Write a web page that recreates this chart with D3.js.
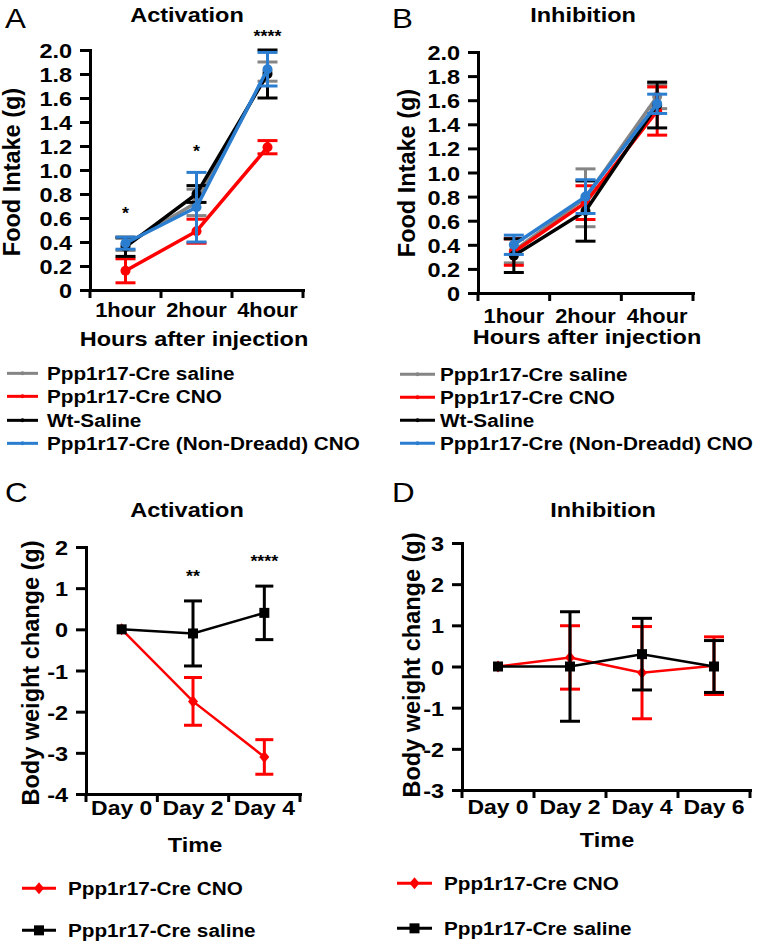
<!DOCTYPE html>
<html>
<head>
<meta charset="utf-8">
<script src="https://cdn.jsdelivr.net/npm/d3@7"></script>
<style>
  body { margin: 0; background: #fff; }
  text { font-family: "Liberation Sans", Arial, sans-serif; font-weight: bold; fill: #000; }
</style>
</head>
<body>
<svg id="fig" width="762" height="947"></svg>
<script>
// --- data ---
const hours = ["1hour", "2hour", "4hour"]
const foodTicks = [0, 0.2, 0.4, 0.6, 0.8, 1.0, 1.2, 1.4, 1.6, 1.8, 2.0]

// A: activation, food intake (mean, sem)
const actSaline = [0.38, 0.73, 1.82]
const actSalineErr = [0.05, 0.11, 0.08]
const actCNO = [0.16, 0.49, 1.19]
const actCNOErr = [0.10, 0.10, 0.055]
const actWt = [0.36, 0.80, 1.80]
const actWtErr = [0.08, 0.07, 0.20]
const actNonDreadd = [0.39, 0.69, 1.84]
const actNonDreaddErr = [0.05, 0.29, 0.14]
const actStars = ["*", "*", "****"]
const actStarsY = [0.59, 1.11, 2.07]

// B: inhibition, food intake
const inhSaline = [0.35, 0.79, 1.63]
const inhSalineErr = [0.10, 0.24, 0.10]
const inhCNO = [0.34, 0.75, 1.51]
const inhCNOErr = [0.11, 0.14, 0.20]
const inhWt = [0.31, 0.68, 1.56]
const inhWtErr = [0.14, 0.25, 0.19]
const inhNonDreadd = [0.40, 0.80, 1.57]
const inhNonDreaddErr = [0.08, 0.14, 0.08]

const foodNames = ["Ppp1r17-Cre saline", "Ppp1r17-Cre CNO", "Wt-Saline", "Ppp1r17-Cre (Non-Dreadd) CNO"]
const foodColors = ["#858585", "#ff0000", "#000000", "#2b7dd0"]

// C: activation, body weight
const daysC = ["Day 0", "Day 2", "Day 4"]
const bwTicksC = [-4, -3, -2, -1, 0, 1, 2]
const bwActCNO = [0, -1.75, -3.1]
const bwActCNOErr = [0, 0.58, 0.42]
const bwActSaline = [0, -0.1, 0.4]
const bwActSalineErr = [0, 0.79, 0.65]
const bwStars = ["", "**", "****"]
const bwStarsY = [0, 1.15, 1.51]

// D: inhibition, body weight
const daysD = ["Day 0", "Day 2", "Day 4", "Day 6"]
const bwTicksD = [-3, -2, -1, 0, 1, 2, 3]
const bwInhCNO = [0, 0.22, -0.15, 0.02]
const bwInhCNOErr = [0, 0.77, 1.12, 0.70]
const bwInhSaline = [0, 0, 0.3, 0]
const bwInhSalineErr = [0, 1.33, 0.87, 0.63]

const bwNames = ["Ppp1r17-Cre CNO", "Ppp1r17-Cre saline"]
const bwColors = ["#ff0000", "#000000"]

const SX = 1.12  // the figure is a little wider than it is tall
const svg = d3.select("#fig")

function label(x, y, txt, size, anchor, weight) {
  return svg.append("text")
    .attr("transform", `translate(${x},${y}) scale(${SX},1)`)
    .attr("text-anchor", anchor || "middle")
    .style("font-size", size + "px")
    .style("font-weight", weight || "bold")
    .text(txt)
}

function yTitle(x, y, txt) {
  svg.append("text")
    .attr("transform", `translate(${x},${y}) rotate(-90)`)
    .attr("text-anchor", "middle")
    .style("font-size", "23.5px")
    .text(txt)
}

function panel(p) {
  const x = d3.scaleBand().domain(p.cats).range([p.x0, p.x1]).padding(0)
  const y = d3.scaleLinear().domain(p.domain).range([p.yBot, p.yTop])
  const bw = x.bandwidth()
  const cx = c => x(c) + bw / 2

  // y axis
  const ya = svg.append("g")
    .attr("transform", `translate(${p.x0},0)`)
    .call(d3.axisLeft(y).tickValues(p.ticks).tickSize(10).tickSizeOuter(0).tickPadding(6).tickFormat(p.fmt))
  ya.select(".domain").attr("stroke-width", 3).attr("stroke-linecap", "square")
  ya.selectAll(".tick line").attr("stroke-width", 3)
  ya.selectAll("text").style("font-size", "21px").attr("dy", "0.36em").attr("transform", `scale(${SX},1)`)

  // x axis: labels centred in bands, ticks on band edges
  const xa = svg.append("g")
    .attr("transform", `translate(0,${p.yBot})`)
    .call(d3.axisBottom(x).tickSize(0).tickSizeOuter(0).tickPadding(p.xPad))
  xa.select(".domain").attr("stroke-width", 3).attr("stroke-linecap", "square")
  xa.selectAll("text").style("font-size", p.xFont + "px").attr("transform", `scale(${SX},1)`)
  const edges = p.cats.map(c => x(c)).concat([p.x1])
  xa.selectAll(".edge").data(edges).join("line")
    .attr("x1", d => d).attr("x2", d => d)
    .attr("y1", 0).attr("y2", 8)
    .attr("stroke", "#000").attr("stroke-width", 3)

  // series
  p.series.forEach(s => {
    const pts = p.cats.map((c, i) => ({ c: c, v: s.values[i], e: s.errs[i] }))
    const g = svg.append("g")
    const eb = g.selectAll(".eb").data(pts.filter(d => d.e > 0)).join("g")
    eb.append("line")
      .attr("x1", d => cx(d.c)).attr("x2", d => cx(d.c))
      .attr("y1", d => y(d.v - d.e)).attr("y2", d => y(d.v + d.e))
      .attr("stroke", s.color).attr("stroke-width", 3)
    ;[-1, 1].forEach(k => {
      eb.append("line")
        .attr("x1", d => cx(d.c) - p.cap / 2).attr("x2", d => cx(d.c) + p.cap / 2)
        .attr("y1", d => y(d.v + k * d.e)).attr("y2", d => y(d.v + k * d.e))
        .attr("stroke", s.color).attr("stroke-width", 3)
    })
    g.append("path").datum(pts)
      .attr("d", d3.line().x(d => cx(d.c)).y(d => y(d.v)))
      .attr("fill", "none").attr("stroke", s.color).attr("stroke-width", p.lineW)
    pts.forEach(d => marker(g, s.shape, cx(d.c), y(d.v), s.color, p.mSize))
  })

  // significance stars
  if (p.stars) {
    p.cats.forEach((c, i) => {
      if (p.stars[i]) label(cx(c), y(p.starsY[i]), p.stars[i], 16, "middle")
    })
  }
}

function marker(g, shape, x, y, color, size) {
  if (shape === "circle") {
    g.append("circle").attr("cx", x).attr("cy", y).attr("r", size).attr("fill", color)
  } else if (shape === "square") {
    g.append("rect").attr("x", x - size).attr("y", y - size)
      .attr("width", size * 2).attr("height", size * 2).attr("fill", color)
  } else if (shape === "diamond") {
    g.append("path").attr("d", `M${x},${y - size * 1.2}L${x + size},${y}L${x},${y + size * 1.2}L${x - size},${y}Z`)
      .attr("fill", color)
  }
}

function legend(x0, x1, xt, rows, names, colors, shapes, size, fs) {
  names.forEach((n, i) => {
    const yy = rows[i]
    const ym = yy - fs * 0.36
    svg.append("line").attr("x1", x0).attr("x2", x1).attr("y1", ym).attr("y2", ym)
      .attr("stroke", colors[i]).attr("stroke-width", 3)
    marker(svg, shapes[i], (x0 + x1) / 2, ym, colors[i], size)
    label(xt, yy, n, fs, "start")
  })
}

const fmtFood = d => d === 0 ? "0" : d.toFixed(1)
const fmtInt = d => String(d)
const food = (vals, errs) => vals.map((v, i) => ({ values: v, errs: errs[i], color: foodColors[i], shape: "circle" }))

// Panel A
label(5, 28, "A", 28, "start", "normal")
label(187, 22, "Activation", 21)
panel({
  cats: hours, domain: [0, 2], ticks: foodTicks, fmt: fmtFood,
  x0: 90, x1: 303, yTop: 50, yBot: 290, xPad: 13, xFont: 19.5, cap: 20, lineW: 3.5, mSize: 5,
  series: food([actSaline, actCNO, actWt, actNonDreadd], [actSalineErr, actCNOErr, actWtErr, actNonDreaddErr]),
  stars: actStars, starsY: actStarsY
})
yTitle(20, 172, "Food Intake (g)")
label(194, 346, "Hours after injection", 21)
legend(7, 38, 47, [380, 403, 427, 450], foodNames, foodColors, ["circle", "circle", "circle", "circle"], 2, 18.5)

// Panel B
label(392, 28, "B", 28, "start", "normal")
label(583, 22, "Inhibition", 21)
panel({
  cats: hours, domain: [0, 2], ticks: foodTicks, fmt: fmtFood,
  x0: 478, x1: 693, yTop: 52, yBot: 293, xPad: 16, xFont: 19.5, cap: 20, lineW: 3.5, mSize: 5,
  series: food([inhSaline, inhCNO, inhWt, inhNonDreadd], [inhSalineErr, inhCNOErr, inhWtErr, inhNonDreaddErr])
})
yTitle(415, 173, "Food Intake (g)")
label(587, 344, "Hours after injection", 21)
legend(400, 435, 440, [381, 404, 427, 450], foodNames, foodColors, ["circle", "circle", "circle", "circle"], 2, 18.5)

// Panel C
label(5, 502, "C", 28, "start", "normal")
label(187, 517, "Activation", 21)
panel({
  cats: daysC, domain: [-4, 2], ticks: bwTicksC, fmt: fmtInt,
  x0: 86, x1: 300, yTop: 547, yBot: 794, xPad: 6, xFont: 20.5, cap: 18, lineW: 2.5, mSize: 5,
  series: [
    { values: bwActCNO, errs: bwActCNOErr, color: bwColors[0], shape: "diamond" },
    { values: bwActSaline, errs: bwActSalineErr, color: bwColors[1], shape: "square" }
  ],
  stars: bwStars, starsY: bwStarsY
})
yTitle(39, 673, "Body weight change (g)")
label(195, 852, "Time", 21)
legend(22, 56, 68, [895, 937], bwNames, bwColors, ["diamond", "square"], 5, 18.5)

// Panel D
label(392, 502, "D", 28, "start", "normal")
label(603, 517, "Inhibition", 21)
panel({
  cats: daysD, domain: [-3, 3], ticks: bwTicksD, fmt: fmtInt,
  x0: 462, x1: 750, yTop: 543, yBot: 790, xPad: 9, xFont: 20.5, cap: 20, lineW: 2.5, mSize: 5,
  series: [
    { values: bwInhCNO, errs: bwInhCNOErr, color: bwColors[0], shape: "diamond" },
    { values: bwInhSaline, errs: bwInhSalineErr, color: bwColors[1], shape: "square" }
  ]
})
yTitle(420, 665, "Body weight change (g)")
label(607, 847, "Time", 21)
legend(397, 432, 444, [890, 935], bwNames, bwColors, ["diamond", "square"], 5, 18.5)
</script>
</body>
</html>
